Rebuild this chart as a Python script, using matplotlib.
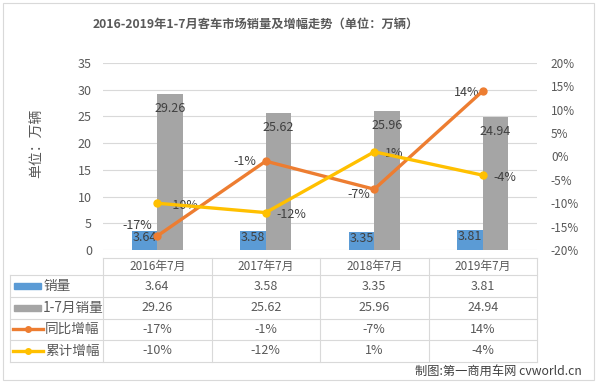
import matplotlib
matplotlib.use("Agg")
import matplotlib.pyplot as plt
from matplotlib.transforms import blended_transform_factory
from matplotlib.lines import Line2D
from matplotlib.patches import Rectangle

plt.rcParams['font.family'] = ['Noto Sans CJK SC', 'DejaVu Sans']

categories = ["2016年7月", "2017年7月", "2018年7月", "2019年7月"]
sales = [3.64, 3.58, 3.35, 3.81]
sales_ytd = [29.26, 25.62, 25.96, 24.94]
yoy = [-17, -1, -7, 14]
ytd_growth = [-10, -12, 1, -4]
series_names = ["销量", "1-7月销量", "同比增幅", "累计增幅"]
title = "2016-2019年1-7月客车市场销量及增幅走势（单位：万辆）"
ylabel = "单位：万辆"
credit = "制图:第一商用车网 cvworld.cn"

# label offsets (pixels: right, down) for the 同比增幅 labels
yoy_label_offsets = [(-5, -10.5), (-9, 0), (-4, 5), (-3, 1)]

BLUE = "#5B9BD5"
GRAY = "#A5A5A5"
ORANGE = "#ED7D31"
YELLOW = "#FFC000"
TXT = "#595959"
DTXT = "#404040"
GRID = "#D9D9D9"

W, H = 600, 386
PT = 100 / 72.0  # px per point
fig = plt.figure(figsize=(6, 3.86), dpi=100)

def fy(p):
    return 1 - p / H

# chart-area border
fig.patches.append(Rectangle((3 / W, fy(380)), 591 / W, (380 - 3) / H, transform=fig.transFigure,
                             fill=False, edgecolor=GRID, lw=0.8))

ax = fig.add_axes([103 / W, fy(250), (537 - 103) / W, (250 - 63) / H])
ax2 = ax.twinx()

x = list(range(len(categories)))
bw = 0.235
ax.bar([i - bw / 2 for i in x], sales, width=bw, color=BLUE, zorder=2)
ax.bar([i + bw / 2 for i in x], sales_ytd, width=bw, color=GRAY, zorder=2)
ax.set_xlim(-0.5, len(categories) - 0.5)
ax.set_ylim(0, 35)
ax.set_yticks(range(0, 36, 5))
ax.grid(axis='y', color=GRID, lw=0.8, zorder=0)
ax.set_axisbelow(True)
ax.set_xticks([])
for s in ax.spines.values():
    s.set_visible(False)
for s in ax2.spines.values():
    s.set_visible(False)
ax.tick_params(axis='y', length=0, labelsize=9, labelcolor=TXT, pad=8)

for i in x:
    ax.annotate(f"{sales[i]:.2f}", (i - bw / 2, sales[i]), xytext=(0, -6.5 / PT), textcoords='offset points',
                ha='center', va='center', fontsize=9, color=DTXT, zorder=5)
    ax.annotate(f"{sales_ytd[i]:.2f}", (i + bw / 2, sales_ytd[i]), xytext=(0, -14.5 / PT), textcoords='offset points',
                ha='center', va='center', fontsize=9, color=DTXT, zorder=5)

ax2.plot(x, yoy, color=ORANGE, lw=2.4, marker='o', ms=5, zorder=4)
ax2.plot(x, ytd_growth, color=YELLOW, lw=2.4, marker='o', ms=5, zorder=4)
ax2.set_ylim(-20, 20)
ax2.set_yticks(range(-20, 21, 5))
ax2.set_yticklabels([f"{v}%" for v in range(-20, 21, 5)])
ax2.tick_params(axis='y', length=0, labelsize=8.5, labelcolor=TXT, pad=10)
ax2.set_zorder(ax.get_zorder() + 1)
ax2.patch.set_visible(False)

for i in x:
    dx, dy = yoy_label_offsets[i]
    ax2.annotate(f"{yoy[i]}%", (i, yoy[i]), xytext=(dx / PT, -dy / PT), textcoords='offset points',
                 ha='right', va='center', fontsize=9, color=DTXT)
    ax2.annotate(f"{ytd_growth[i]}%", (i, ytd_growth[i]), xytext=(11 / PT, -2 / PT), textcoords='offset points',
                 ha='left', va='center', fontsize=9, color=DTXT)

fig.text(256 / W, fy(24), title, ha='center', va='center', fontsize=8.8, fontweight='bold', color=TXT)
fig.text(37 / W, fy(143), ylabel, ha='center', va='center', rotation=90, fontsize=10, color=TXT)

# data table
tr = blended_transform_factory(ax.transData, fig.transFigure)
rows_y = [258, 275, 297, 318.5, 340, 362]
xl, xr = -0.5, len(categories) - 0.5
x_left_data = ax.transData.inverted().transform((10, 0))[0]
lc = GRID
lw = 0.8
ax.add_line(Line2D([xl, xr], [fy(rows_y[0])] * 2, transform=tr, color=lc, lw=lw, clip_on=False))
for ry in rows_y[1:]:
    ax.add_line(Line2D([x_left_data, xr], [fy(ry)] * 2, transform=tr, color=lc, lw=lw, clip_on=False))
for b in [xl + k for k in range(len(categories) + 1)]:
    ax.add_line(Line2D([b, b], [fy(rows_y[0]), fy(rows_y[-1])], transform=tr, color=lc, lw=lw, clip_on=False))
ax.add_line(Line2D([x_left_data, x_left_data], [fy(rows_y[1]), fy(rows_y[-1])], transform=tr, color=lc, lw=lw, clip_on=False))

def mid(r):
    return fy((rows_y[r] + rows_y[r + 1]) / 2)

for i, c in enumerate(categories):
    ax.text(i, mid(0), c, transform=tr, ha='center', va='center', fontsize=8.5, color=TXT, clip_on=False)

row_vals = [
    [f"{v:.2f}" for v in sales],
    [f"{v:.2f}" for v in sales_ytd],
    [f"{v}%" for v in yoy],
    [f"{v}%" for v in ytd_growth],
]
for r, vals in enumerate(row_vals):
    for i, v in enumerate(vals):
        ax.text(i, mid(r + 1), v, transform=tr, ha='center', va='center', fontsize=9, color=TXT, clip_on=False)

# legend keys
for r, (name, col, kind) in enumerate(zip(series_names, [BLUE, GRAY, ORANGE, YELLOW], ['bar', 'bar', 'line', 'line'])):
    yc = mid(r + 1)
    if kind == 'bar':
        fig.patches.append(Rectangle((14 / W, yc - 3 / H), 27 / W, 6 / H, transform=fig.transFigure,
                                     color=col))
    else:
        fig.lines.append(Line2D([13 / W, 43 / W], [yc, yc], transform=fig.transFigure, color=col, lw=2.4))
        fig.lines.append(Line2D([28 / W], [yc], transform=fig.transFigure, color=col, marker='o', ms=4))
    fig.text((43 if kind == 'bar' else 45) / W, yc, name, ha='left', va='center', fontsize=9.8, color=TXT)

fig.text(582 / W, fy(371), credit, ha='right', va='center', fontsize=8.8, color=DTXT)

fig.savefig("out.png", dpi=100)
